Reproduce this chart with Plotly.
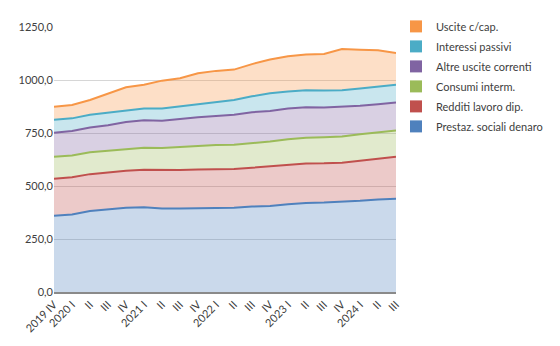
import plotly.graph_objects as go

quarters = ["2019 IV", "2020 I", "2020 II", "2020 III", "2020 IV",
            "2021 I", "2021 II", "2021 III", "2021 IV",
            "2022 I", "2022 II", "2022 III", "2022 IV",
            "2023 I", "2023 II", "2023 III", "2023 IV",
            "2024 I", "2024 II", "2024 III"]
tick_labels = ["2019 IV", "2020 I", "II", "III", "IV",
               "2021 I", "II", "III", "IV",
               "2022 I", "II", "III", "IV",
               "2023 I", "II", "III", "IV",
               "2024 I", "II", "III"]

prestaz_sociali = [360, 366, 382, 390, 397, 400, 394, 394, 396, 397, 397, 403, 406, 414, 420, 422, 425, 430, 436, 440]
redditi_lavoro = [174, 175, 174, 175, 175, 177, 181, 181, 182, 183, 183, 183, 186, 186, 186, 185, 185, 189, 193, 198]
consumi_interm = [104, 103, 103, 101, 101, 104, 104, 109, 112, 113, 115, 116, 118, 121, 122, 123, 123, 125, 124, 124]
altre_uscite = [113, 115, 117, 121, 129, 129, 129, 133, 134, 137, 141, 146, 144, 144, 143, 140, 141, 135, 133, 132]
interessi_passivi = [62, 60, 60, 58, 55, 56, 58, 59, 61, 64, 70, 75, 83, 81, 81, 81, 78, 81, 82, 84]
uscite_cap = [61, 63, 70, 90, 109, 112, 131, 132, 147, 149, 143, 152, 160, 166, 168, 172, 194, 183, 172, 149]

series = [
    ("Prestaz. sociali denaro", prestaz_sociali, (79, 129, 189)),
    ("Redditi lavoro dip.", redditi_lavoro, (192, 80, 77)),
    ("Consumi interm.", consumi_interm, (155, 187, 89)),
    ("Altre uscite correnti", altre_uscite, (128, 100, 162)),
    ("Interessi passivi", interessi_passivi, (75, 172, 198)),
    ("Uscite c/cap.", uscite_cap, (247, 150, 70)),
]

fig = go.Figure()
for name, vals, (r, g, b) in series:
    fig.add_trace(go.Scatter(
        x=quarters, y=vals, name=name, mode="lines",
        stackgroup="one", line=dict(color=f"rgb({r},{g},{b})", width=2),
        fillcolor=f"rgba({r},{g},{b},0.3)", showlegend=False,
        hoverinfo="x+y+name"))

for name, vals, (r, g, b) in reversed(series):
    fig.add_trace(go.Scatter(
        x=[None], y=[None], name=name, mode="markers", legendgroup=name,
        marker=dict(symbol="square", size=11, color=f"rgb({r},{g},{b})"),
        showlegend=True))

fig.update_layout(
    width=560, height=346,
    margin=dict(l=54, r=158, t=23, b=52),
    paper_bgcolor="white", plot_bgcolor="white",
    font=dict(family="Lato, Carlito, sans-serif", size=11, color="#404040"),
    separators=",.",
    legend=dict(x=1.0, xanchor="left", y=1.057, yanchor="top",
                font=dict(size=11, color="#404040"), tracegroupgap=1,
                itemsizing="constant"),
    xaxis=dict(type="category", categoryorder="array", categoryarray=quarters,
               tickvals=quarters, ticktext=tick_labels, tickangle=-45,
               range=[0, len(quarters) - 1], showgrid=False,
               showline=True, linecolor="#8a8a8a", linewidth=2,
               ticks="", zeroline=False),
    yaxis=dict(range=[0, 1250], dtick=250, tickformat=".1f",
               showgrid=True, gridcolor="#d6d6d6", gridwidth=1,
               zeroline=False, showline=False, ticks=""),
)

fig.write_html("out.html")
